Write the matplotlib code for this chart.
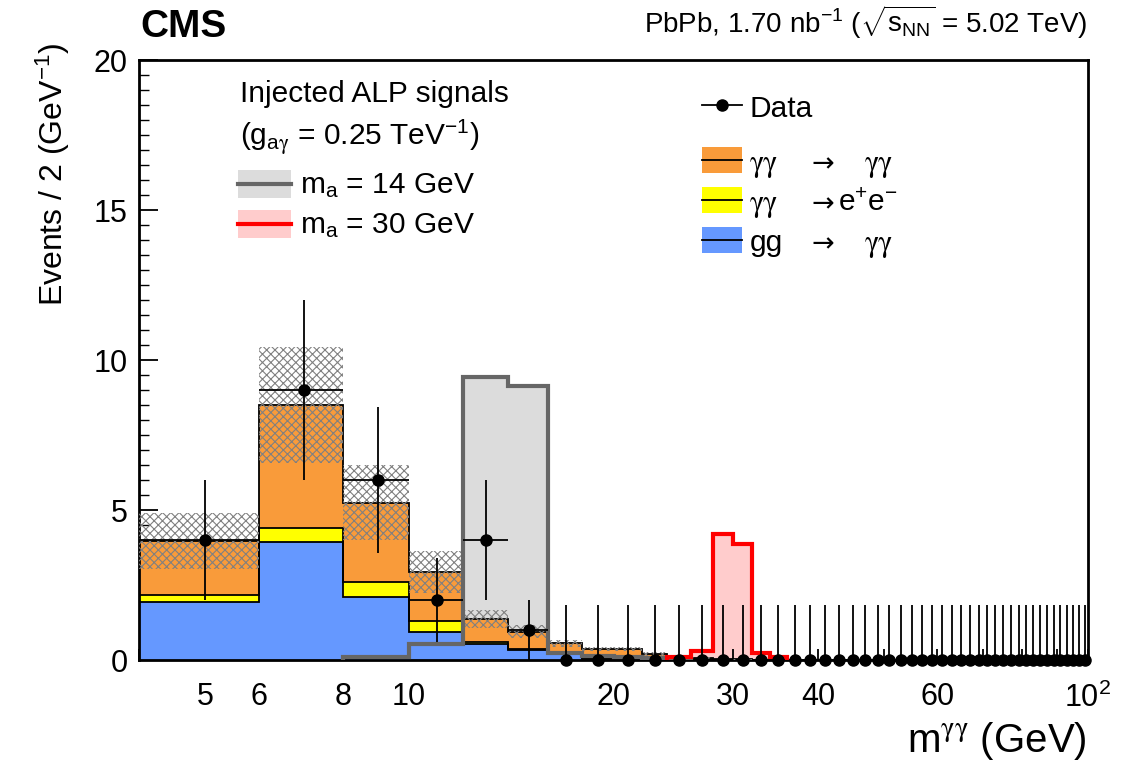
import numpy as np
import matplotlib
matplotlib.use("Agg")
from matplotlib import pyplot as plt
from matplotlib.patches import Rectangle
from matplotlib.lines import Line2D

plt.rcParams['font.family'] = ['Liberation Sans', 'DejaVu Sans']
plt.rcParams['mathtext.fontset'] = 'custom'
plt.rcParams['mathtext.rm'] = 'Liberation Sans'
plt.rcParams['mathtext.it'] = 'Liberation Sans:italic'
plt.rcParams['mathtext.bf'] = 'Liberation Sans:bold'
plt.rcParams['mathtext.sf'] = 'STIXGeneral'  # used for the gamma glyphs
plt.rcParams['hatch.linewidth'] = 0.8

# bin edges: 4 .. 100 GeV in 2 GeV steps (48 bins)
edges = np.arange(4, 102, 2)

# observed events per bin
data = [4, 9, 6, 2, 4, 1, 0, 0, 0, 0, 0, 0, 0, 0, 0, 0,
        0, 0, 0, 0, 0, 0, 0, 0, 0, 0, 0, 0, 0, 0, 0, 0,
        0, 0, 0, 0, 0, 0, 0, 0, 0, 0, 0, 0, 0, 0, 0, 0]

# background components (stacked: gg, ee, lbl)
gg_yy = [1.93, 3.94, 2.11, 0.92, 0.55, 0.32, 0.25, 0.05, 0.04, 0.02, 0.01, 0.01,
         0, 0, 0, 0, 0, 0, 0, 0, 0, 0, 0, 0, 0, 0, 0, 0, 0, 0, 0, 0,
         0, 0, 0, 0, 0, 0, 0, 0, 0, 0, 0, 0, 0, 0, 0, 0]
yy_ee = [0.24, 0.46, 0.48, 0.39, 0.05, 0.04, 0.03, 0.03, 0.02, 0.02, 0.01, 0.01,
         0, 0, 0, 0, 0, 0, 0, 0, 0, 0, 0, 0, 0, 0, 0, 0, 0, 0, 0, 0,
         0, 0, 0, 0, 0, 0, 0, 0, 0, 0, 0, 0, 0, 0, 0, 0]
yy_yy = [1.80, 4.10, 2.66, 1.63, 0.78, 0.59, 0.28, 0.29, 0.30, 0.17, 0.08, 0.05,
         0.03, 0.02, 0.01, 0, 0, 0, 0, 0, 0, 0, 0, 0, 0, 0, 0, 0, 0, 0, 0, 0,
         0, 0, 0, 0, 0, 0, 0, 0, 0, 0, 0, 0, 0, 0, 0, 0]
# total background uncertainty (half width of hatched band)
bkg_unc = [0.92, 1.93, 1.24, 0.69, 0.30, 0.22, 0.11, 0.07, 0.07, 0.06, 0.03, 0.02,
           0.01, 0.01, 0, 0, 0, 0, 0, 0, 0, 0, 0, 0, 0, 0, 0, 0, 0, 0, 0, 0,
           0, 0, 0, 0, 0, 0, 0, 0, 0, 0, 0, 0, 0, 0, 0, 0]

# injected ALP signals
sig_14 = [0, 0, 0.10, 0.55, 9.45, 9.15, 0.25, 0.12, 0.10, 0.08, 0.03, 0,
          0, 0, 0, 0, 0, 0, 0, 0, 0, 0, 0, 0, 0, 0, 0, 0, 0, 0, 0, 0,
          0, 0, 0, 0, 0, 0, 0, 0, 0, 0, 0, 0, 0, 0, 0, 0]
sig_30 = [0, 0, 0, 0, 0, 0, 0, 0, 0, 0, 0.11, 0.31,
          4.20, 3.87, 0.22, 0.10, 0, 0, 0, 0, 0, 0, 0, 0, 0, 0, 0, 0, 0, 0, 0, 0,
          0, 0, 0, 0, 0, 0, 0, 0, 0, 0, 0, 0, 0, 0, 0, 0]

xticks = [5, 6, 8, 10, 20, 30, 40, 60, 100]
xticklabels = ['5', '6', '8', '10', '20', '30', '40', '60', '10$^{2}$']

c_orange = '#F99B3A'
c_yellow = '#FFFF00'
c_blue = '#6598FF'

W, H = 1134, 768


def fx(x):
    return x / W


def fy(y):
    return 1 - y / H


def nonzero_range(vals):
    idx = np.nonzero(vals)[0]
    return idx[0], idx[-1] + 1


data = np.array(data, dtype=float)
gg_yy = np.array(gg_yy)
yy_ee = np.array(yy_ee)
yy_yy = np.array(yy_yy)
bkg_unc = np.array(bkg_unc)
sig_14 = np.array(sig_14)
sig_30 = np.array(sig_30)

s1 = gg_yy
s2 = s1 + yy_ee
s3 = s2 + yy_yy

fig = plt.figure(figsize=(W / 100, H / 100), dpi=100)
ax = fig.add_axes([fx(139), fy(660), fx(1088) - fx(139), fy(60) - fy(660)])
ax.set_xscale('log')

# signal fills behind the background
ax.stairs(sig_14, edges, fill=True, color='#DCDCDC', zorder=1)
ax.stairs(sig_30, edges, fill=True, color='#FFCCCC', zorder=1)

# stacked background
ax.stairs(s1, edges, baseline=0, fill=True, color=c_blue, zorder=2)
ax.stairs(s2, edges, baseline=s1, fill=True, color=c_yellow, zorder=2)
ax.stairs(s3, edges, baseline=s2, fill=True, color=c_orange, zorder=2)
for s in (s1, s2, s3):
    ax.stairs(s, edges, baseline=None, color='black', lw=1.3, zorder=3)

# uncertainty band
ax.stairs(s3 + bkg_unc, edges, baseline=np.clip(s3 - bkg_unc, 0, None), fill=True,
          facecolor='none', edgecolor='#808080', hatch='xxxx', lw=0, zorder=4)

# signal outlines, only where the signal is non-zero
for sig, col in ((sig_14, '#666666'), (sig_30, '#FF0000')):
    i0, i1 = nonzero_range(sig)
    ax.stairs(sig[i0:i1], edges[i0:i1 + 1], baseline=0, color=col, lw=3, zorder=5)

# data with Poisson-style errors
centers = 0.5 * (edges[:-1] + edges[1:])
err_lo = np.where(data > 0, np.sqrt(data), 0)
err_hi = np.where(data > 0, np.sqrt(data), 1.84)
xerr = np.where(data > 0, 1.0, 0.0)
ax.errorbar(centers, data, yerr=[err_lo, err_hi], xerr=xerr, fmt='o', color='black',
            ms=8, elinewidth=1.3, capsize=0, clip_on=False, zorder=6)

ax.set_xlim(4, 100)
ax.set_ylim(0, 20)
ax.set_xticks(xticks)
ax.set_xticklabels(xticklabels)
ax.set_xticks([4, 7, 9, 50, 70, 80, 90], minor=True)
ax.xaxis.set_minor_formatter(plt.NullFormatter())
ax.set_yticks([0, 5, 10, 15, 20])
ax.set_yticks(np.arange(0, 20.5, 0.5), minor=True)
ax.tick_params(axis='both', which='both', direction='in', top=False, right=False)
ax.tick_params(axis='x', which='both', length=8, width=1.3, labelsize=22, pad=16)
ax.tick_params(axis='y', which='major', length=14, width=1.3, labelsize=22, pad=8)
ax.tick_params(axis='y', which='minor', length=7, width=1.0)
for sp in ax.spines.values():
    sp.set_linewidth(2)

# axis titles
fig.text(fx(1087), fy(752), r'm$^{\mathsf{γγ}}$ (GeV)', ha='right', va='baseline', fontsize=29)
fig.text(fx(72), fy(43), r'Events / 2 (GeV$^{\mathrm{-1}}$)', rotation=90,
         ha='right', va='top', fontsize=23)

# header
fig.text(fx(140), fy(37), 'CMS', fontsize=28, fontweight='bold', va='baseline')
fig.text(fx(1087), fy(33), r'PbPb, 1.70 nb$^{\mathrm{-1}}$ ($\sqrt{\mathrm{s_{NN}}}$ = 5.02 TeV)',
         ha='right', va='baseline', fontsize=20)

# left legend (signals)
fs = 21.5
fig.text(fx(240), fy(102), 'Injected ALP signals', fontsize=fs, va='baseline')
fig.text(fx(240), fy(145), r'(g$_{\mathrm{a}\mathsf{γ}}$ = 0.25 TeV$^{\mathrm{-1}}$)', fontsize=fs,
         va='baseline')
for y0, fc, lc, lab in [(170, '#DCDCDC', '#666666', r'm$_{\mathrm{a}}$ = 14 GeV'),
                        (210, '#FFCCCC', '#FF0000', r'm$_{\mathrm{a}}$ = 30 GeV')]:
    fig.add_artist(Rectangle((fx(238), fy(y0 + 28)), fx(291) - fx(238), fy(y0) - fy(y0 + 28),
                             transform=fig.transFigure, facecolor=fc, edgecolor='none'))
    fig.add_artist(Line2D([fx(238), fx(291)], [fy(y0 + 14), fy(y0 + 14)],
                          transform=fig.transFigure, color=lc, lw=3))
    fig.text(fx(300), fy(y0 + 23), lab, fontsize=fs, va='baseline')

# right legend (data and backgrounds)
fig.add_artist(Line2D([fx(702), fx(742)], [fy(105), fy(105)], transform=fig.transFigure,
                      color='black', lw=1.3))
fig.add_artist(Line2D([fx(722)], [fy(105)], transform=fig.transFigure,
                      color='black', marker='o', ms=8))
fig.text(fx(750), fy(117), 'Data', fontsize=fs, va='baseline')
for yc, col, left, right in [(160, c_orange, 'γγ', 'γγ'),
                             (200, c_yellow, 'γγ', r'e$^{\mathrm{+}}$e$^{\mathrm{-}}$'),
                             (240, c_blue, 'gg', 'γγ')]:
    fig.add_artist(Rectangle((fx(702), fy(yc + 13)), fx(742) - fx(702), fy(yc - 13) - fy(yc + 13),
                             transform=fig.transFigure, facecolor=col, edgecolor='none'))
    fig.add_artist(Line2D([fx(702), fx(742)], [fy(yc), fy(yc)], transform=fig.transFigure,
                          color='black', lw=1.3))
    lfam = 'STIXGeneral' if left == 'γγ' else 'Liberation Sans'
    fig.text(fx(750), fy(yc + 11), left, fontsize=fs, va='baseline', family=lfam)
    fig.text(fx(811), fy(yc + 11), '→', fontsize=fs - 2, va='baseline', family='DejaVu Sans')
    if right == 'γγ':
        fig.text(fx(893), fy(yc + 11), right, fontsize=fs, va='baseline', ha='right',
                 family='STIXGeneral')
    else:
        fig.text(fx(838), fy(yc + 11), right, fontsize=fs, va='baseline', ha='left')

fig.savefig('out.png', dpi=100)
